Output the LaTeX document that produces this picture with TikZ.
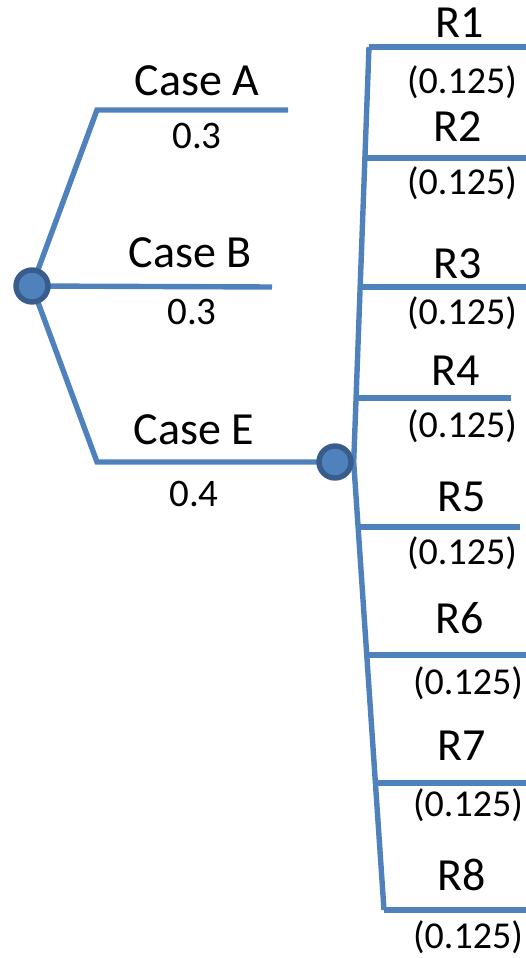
\documentclass[tikz,border=0pt]{standalone}
\usepackage{fontspec}
\setmainfont{Carlito}
\usetikzlibrary{backgrounds}
\definecolor{dtblue}{HTML}{4F81BD}
\definecolor{dtedge}{HTML}{385D8A}
\tikzset{
  dtline/.style={draw=dtblue, line width=5.4pt},
  dtchance/.style={circle, draw=dtedge, line width=5.4pt, fill=dtblue, minimum size=32pt, inner sep=0pt},
  dtcase/.style={font=\fontsize{46}{50}\selectfont, inner sep=0pt},
  dtprob/.style={font=\fontsize{39}{44}\selectfont, inner sep=0pt},
  dtres/.style={font=\fontsize{46}{50}\selectfont, inner sep=0pt},
  dtresp/.style={font=\fontsize{38}{42}\selectfont, inner sep=0pt}
}

\begin{document}
\begin{tikzpicture}[x=1pt,y=-1pt]
        \useasboundingbox (0,0) rectangle (526,958);

        % chance nodes
        \node[dtchance] (c0) at (32,286) {};
        \node[dtchance] (c1) at (335,462) {};

        % first level
        \coordinate (kA) at (97,110);
        \coordinate (eA) at (288,110);
        \coordinate (eB) at (272,287);
        \coordinate (kE) at (97,462);

        \node[dtcase] (tA) at (197,81) {Case A};
        \node[dtprob] (pA) at (197,136) {0.3};
        \node[dtcase] (tB) at (190,253) {Case B};
        \node[dtprob] (pB) at (192,312) {0.3};
        \node[dtcase] (tE) at (194,430) {Case E};
        \node[dtprob] (pE) at (194,494) {0.4};

        % second level
        \coordinate (rtop) at (369,47);
        \coordinate (rbot) at (384,910);

        \begin{scope}[on background layer]
            \draw[dtline] (c0.center) -- (kA) -- (eA);
            \draw[dtline] (c0.center) -- (eB);
            \draw[dtline] (c0.center) -- (kE) -- (c1.center);
            \draw[dtline] (rtop) -- (c1.east) -- (rbot);
        \end{scope}

        \foreach \i/\ly/\xs/\xe/\tx/\ty/\px/\py in {
            1/47/369/526/460/23/462/82,
            2/158/366/526/458/127/462/183,
            3/287/361/526/458/264/462/313,
            4/398/356/511/456/371/462/426,
            5/527/357/520/462/497/462/553,
            6/655/368/526/460/618/468/683,
            7/783/377/526/462/746/468/805,
            8/910/384/526/462/875/468/937} {
            \coordinate (s\i) at (\xs,\ly);
            \coordinate (e\i) at (\xe,\ly);
            \draw[dtline] (s\i) -- (e\i);
            \node[dtres] (r\i) at (\tx,\ty) {R\i};
            \node[dtresp] (q\i) at (\px,\py) {(0.125)};
        }
    \end{tikzpicture}
\end{document}
